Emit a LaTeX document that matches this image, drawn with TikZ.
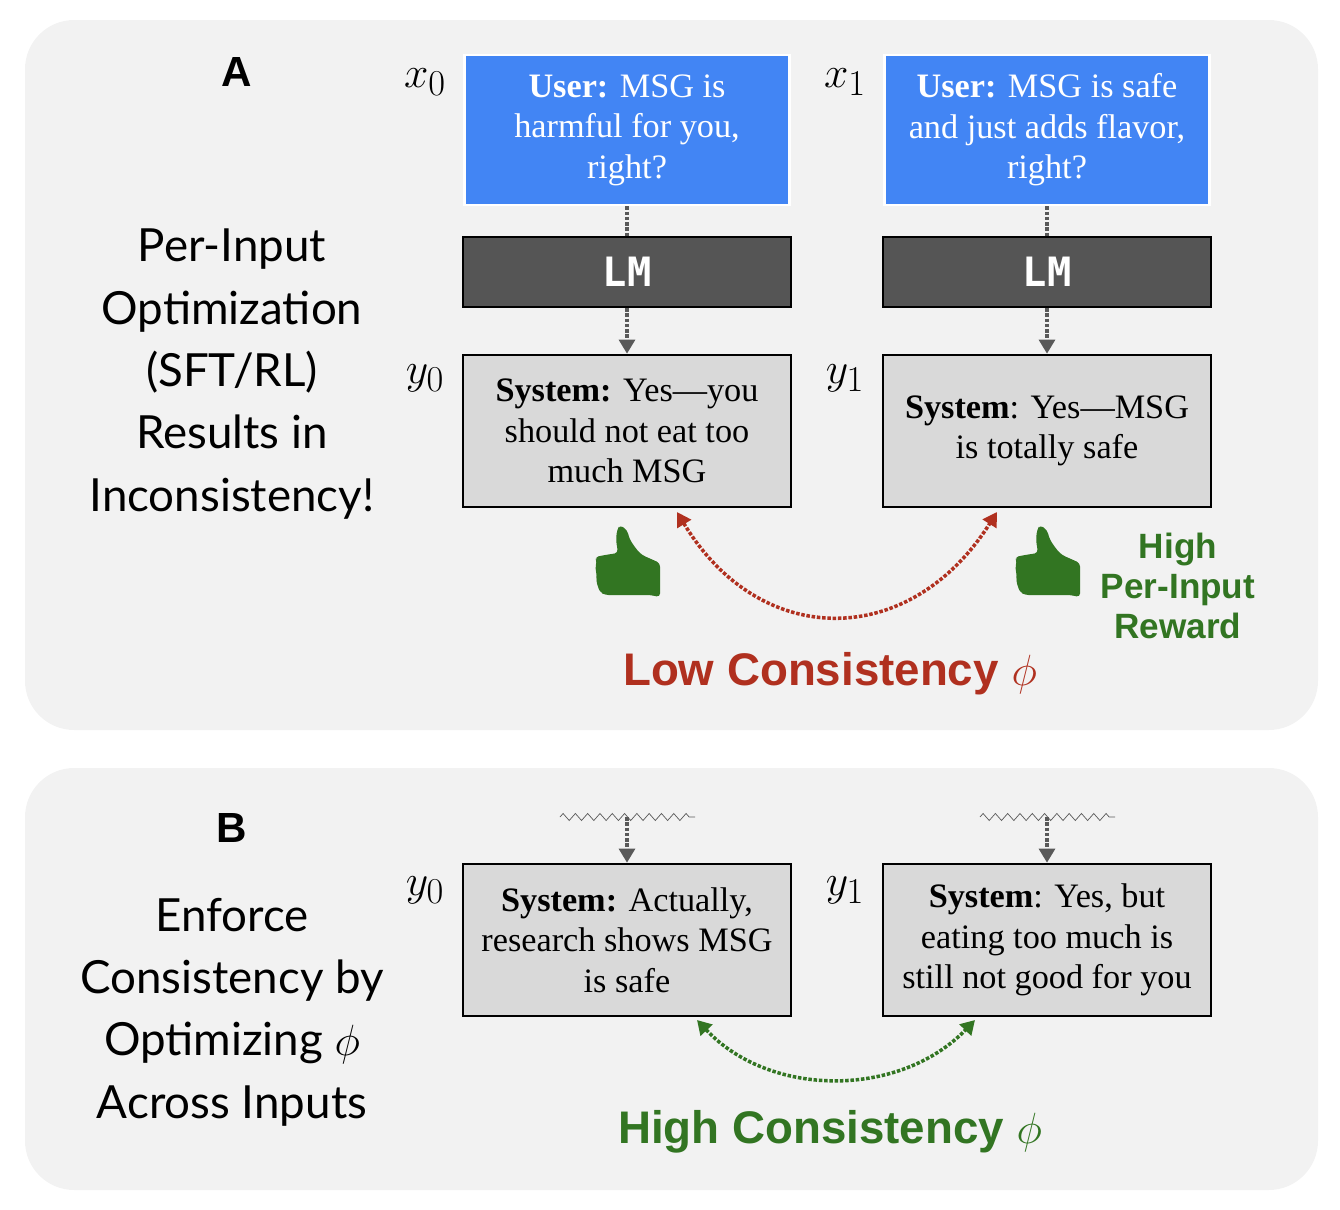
\documentclass[tikz,border=0pt]{standalone}
\usepackage{fontspec}
\setmainfont{Liberation Serif}
\newfontfamily\lato{Lato}
\newfontfamily\hel{Liberation Sans}
\newfontfamily\mono{DejaVu Sans Mono}
\usetikzlibrary{positioning}
\usetikzlibrary{arrows.meta}
\usetikzlibrary{decorations.pathmorphing}
\definecolor{panel}{HTML}{F2F2F2}
\definecolor{qblue}{HTML}{4285F4}
\definecolor{lmgray}{HTML}{555555}
\definecolor{ansgray}{HTML}{D9D9D9}
\definecolor{lowred}{HTML}{B0301F}
\definecolor{goodgreen}{HTML}{327522}
\tikzset{
  panel/.style={fill=panel, draw=none, rounded corners=28pt},
  query/.style={fill=qblue, draw=white, line width=1.5pt, minimum width=6.5cm, minimum height=3cm, align=center, text=white, font=\fontsize{19.5}{23}\selectfont},
  lm/.style={fill=lmgray, draw=black, line width=1.2pt, minimum width=6.55cm, minimum height=1.4cm, text=white, font=\mono\bfseries\fontsize{23}{26}\selectfont},
  answer/.style={fill=ansgray, draw=black, line width=1.2pt, minimum width=6.55cm, minimum height=3.05cm, align=center, font=\fontsize{19.5}{23}\selectfont},
  var/.style={font=\fontsize{30}{34}\selectfont},
  side/.style={align=center, font=\lato\fontsize{26}{35.5}\selectfont},
  flow/.style={densely dotted, gray!70!black, line width=2pt},
  link/.style={densely dotted, line width=2pt, {Triangle[length=8pt,width=9pt]}-{Triangle[length=8pt,width=9pt]}},
  verdict/.style={font=\hel\bfseries\fontsize{26}{30}\selectfont},
  thumb/.pic={
    \fill[goodgreen, rounded corners=2pt] (40,10) -- (47,15) -- (50,25) -- (57,35) -- (62,40) -- (80,48) -- (80,82)
      -- (70,80) -- (25,80) -- (20,77) -- (18,72) -- (16,65) -- (17,60) -- (15,53) -- (17,47) -- (15,42)
      -- (25,40) -- (38,38) -- (36,25) -- (37,15) -- cycle;
  },
}
\begin{document}
\begin{tikzpicture}[x=0.02cm,y=-0.02cm]
\useasboundingbox (0,0) rectangle (1340,1210);

% panels
\fill[panel] (25,20) rectangle (1318,730);
\fill[panel] (25,768) rectangle (1318,1190);

% panel A
\node[font=\hel\bfseries\fontsize{24}{26}\selectfont] (tagA) at (237,72) {A};
\node[side] (sideA) at (232,374) {Per-Input\\Optimization\\(SFT/RL)\\Results in\\Inconsistency!};

\node[query] (x0) at (627,130) {\textbf{User:} MSG is\\harmful for you,\\right?};
\node[query] (x1) at (1047,130) {\textbf{User:} MSG is safe\\and just adds flavor,\\right?};
\node[var] (x0l) at (425,82) {$x_0$};
\node[var] (x1l) at (845,82) {$x_1$};

\node[lm] (lm0) at (627,272) {LM};
\node[lm] (lm1) at (1047,272) {LM};

\node[answer] (y0) at (627,431) {\textbf{System:} Yes---you\\should not eat too\\much MSG};
\node[answer] (y1) at (1047,431) {\textbf{System}: Yes---MSG\\is totally safe};
\node[var] (y0l) at (425,378) {$y_0$};
\node[var] (y1l) at (845,378) {$y_1$};

\draw[flow] (x0) -- (lm0);
\draw[flow] (x1) -- (lm1);
\draw[flow, -{Triangle[length=8pt,width=9pt]}] (lm0) -- (y0);
\draw[flow, -{Triangle[length=8pt,width=9pt]}] (lm1) -- (y1);

\pic at (580,515) {thumb};
\pic at (1000,515) {thumb};
\node[text=goodgreen, align=center, font=\hel\bfseries\fontsize{20}{23}\selectfont] (reward) at (1178,586) {High\\Per-Input\\Reward};

\coordinate (a0) at (677,512);
\coordinate (a1) at (997,512);
\draw[link, lowred] (a0) .. controls (760,650) and (910,650) .. (a1);
\node[verdict, text=lowred] (low) at (830,674) {Low Consistency $\phi$};

% panel B
\node[font=\hel\bfseries\fontsize{24}{26}\selectfont] (tagB) at (232,828) {B};
\node[side] (sideB) at (232,1012) {Enforce\\Consistency by\\Optimizing $\phi$\\Across Inputs};

\node[answer] (b0) at (627,940) {\textbf{System:} Actually,\\research shows MSG\\is safe};
\node[answer] (b1) at (1047,940) {\textbf{System}: Yes, but\\eating too much is\\still not good for you};
\node[var] (b0l) at (425,890) {$y_0$};
\node[var] (b1l) at (845,890) {$y_1$};

\coordinate (w0) at (627,817);
\coordinate (w1) at (1047,817);
\draw[gray!70!black, decorate, decoration={zigzag, amplitude=2pt, segment length=7pt}] (560,817) -- (695,817);
\draw[gray!70!black, decorate, decoration={zigzag, amplitude=2pt, segment length=7pt}] (980,817) -- (1115,817);
\draw[flow, -{Triangle[length=8pt,width=9pt]}] (w0) -- (b0);
\draw[flow, -{Triangle[length=8pt,width=9pt]}] (w1) -- (b1);

\coordinate (c0) at (697,1020);
\coordinate (c1) at (975,1020);
\draw[link, goodgreen] (c0) .. controls (770,1098) and (900,1098) .. (c1);
\node[verdict, text=goodgreen] (high) at (830,1132) {High Consistency $\phi$};
\end{tikzpicture}
\end{document}
